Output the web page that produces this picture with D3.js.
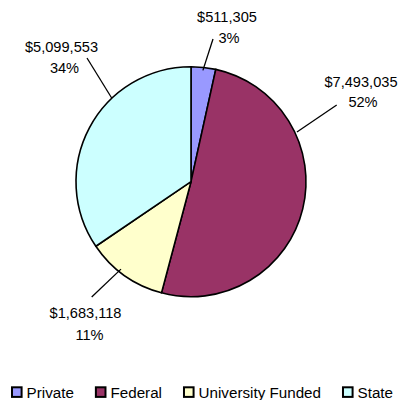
<!DOCTYPE html>
<html>
<head>
<meta charset="utf-8">
<script src="https://cdn.jsdelivr.net/npm/d3@7/dist/d3.min.js"></script>
<style>
  html, body { margin: 0; padding: 0; background: #fff; }
  svg { display: block; }
  text { font-family: "Liberation Sans", Arial, sans-serif; font-size: 14.6px; fill: #000; }
  .legend text { font-size: 15.2px; }
</style>
</head>
<body>
<svg id="chart" width="414" height="400"></svg>
<script>
// ---- data ----
const categories = ["Private", "Federal", "University Funded", "State"];
const values = [511305, 7493035, 1683118, 5099553];
const valueLabels = ["$511,305", "$7,493,035", "$1,683,118", "$5,099,553"];
const percentLabels = ["3%", "52%", "11%", "34%"];
const colors = ["#9999FF", "#993366", "#FFFFCC", "#CCFFFF"];

// ---- layout (not data) ----
const W = 414, H = 400;
const cx = 191, cy = 181.7, R = 115;
// leader line: start angle on the pie edge (deg, clockwise from 12 o'clock), end point; label line centers/baselines
const labelLayout = [
  { startAngle: 6.1,   startR: 112, end: [213, 39],    l1: [227, 22],   l2: [229, 43] },
  { startAngle: 64.9,  startR: 117, end: [336.7, 105], l1: [361, 87],   l2: [363, 107] },
  { startAngle: 218.7, startR: 112, end: [91.7, 297],  l1: [85.5, 318], l2: [89.5, 340] },
  { startAngle: 316.5, startR: 115, end: [87, 58],     l1: [61.5, 52],  l2: [64.5, 73] }
];

const svg = d3.select("#chart");
const data = categories.map((c, i) => ({ cat: c, value: values[i], i }));

const pie = d3.pie().value(d => d.value).sort(null);
const arc = d3.arc().innerRadius(0).outerRadius(R);
const color = d3.scaleOrdinal().domain(categories).range(colors);

const g = svg.append("g").attr("transform", `translate(${cx},${cy})`);
g.selectAll("path")
  .data(pie(data))
  .join("path")
  .attr("d", arc)
  .attr("fill", d => color(d.data.cat))
  .attr("stroke", "#000")
  .attr("stroke-width", 1.6)
  .attr("stroke-linejoin", "round");

// leader lines
const toXY = (deg, r) => {
  const a = deg * Math.PI / 180;
  return [cx + r * Math.sin(a), cy - r * Math.cos(a)];
};
labelLayout.forEach((L, i) => {
  const s = toXY(L.startAngle, L.startR);
  svg.append("line")
    .attr("x1", s[0]).attr("y1", s[1])
    .attr("x2", L.end[0]).attr("y2", L.end[1])
    .attr("stroke", "#000").attr("stroke-width", 1.3);
  svg.append("text").attr("x", L.l1[0]).attr("y", L.l1[1])
    .attr("text-anchor", "middle").text(valueLabels[i]);
  svg.append("text").attr("x", L.l2[0]).attr("y", L.l2[1])
    .attr("text-anchor", "middle").text(percentLabels[i]);
});

// legend
const legend = svg.append("g").attr("class", "legend");
let x = 12;
const ly = 387.3, box = 9.6, gapText = 5, gapItem = 22;
categories.forEach((c, i) => {
  legend.append("rect")
    .attr("x", x).attr("y", ly).attr("width", box).attr("height", box)
    .attr("fill", color(c)).attr("stroke", "#000").attr("stroke-width", 2);
  const t = legend.append("text")
    .attr("x", x + box + gapText).attr("y", ly + 10.3)
    .text(c);
  x += box + gapText + t.node().getComputedTextLength() + gapItem;
});
</script>
</body>
</html>
